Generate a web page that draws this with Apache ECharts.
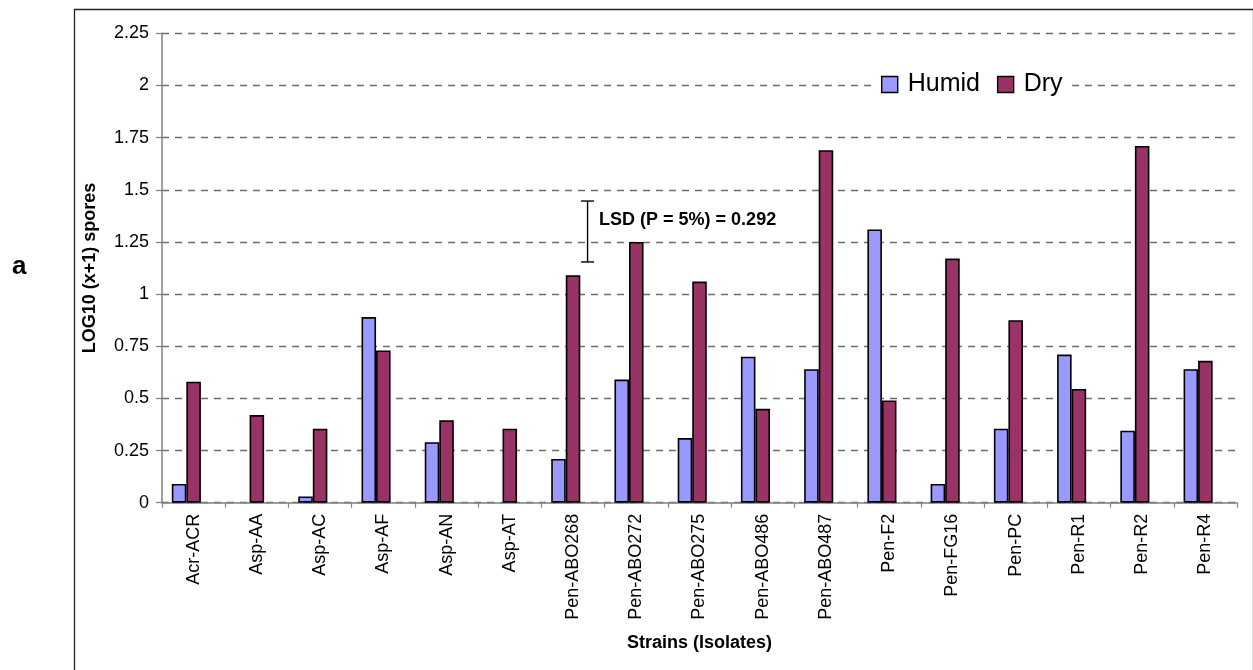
<!DOCTYPE html>
<html>
<head>
<meta charset="utf-8">
<script src="https://cdn.jsdelivr.net/npm/echarts@6/dist/echarts.min.js"></script>
<style>
  html, body { margin: 0; padding: 0; background: #fff; }
  #chart { width: 1253px; height: 670px; }
</style>
</head>
<body>
<div id="chart"></div>
<script>
// Strains (isolates) on the category axis
const strains = ['Acr-ACR', 'Asp-AA', 'Asp-AC', 'Asp-AF', 'Asp-AN', 'Asp-AT',
  'Pen-ABO268', 'Pen-ABO272', 'Pen-ABO275', 'Pen-ABO486', 'Pen-ABO487',
  'Pen-F2', 'Pen-FG16', 'Pen-PC', 'Pen-R1', 'Pen-R2', 'Pen-R4'];

// LOG10 (x+1) spore counts per condition
const humid = [0.09, 0, 0.03, 0.89, 0.29, 0, 0.21, 0.59, 0.31, 0.70, 0.64, 1.31, 0.09, 0.355, 0.71, 0.345, 0.64];
const dry   = [0.58, 0.42, 0.355, 0.73, 0.395, 0.355, 1.09, 1.25, 1.06, 0.45, 1.69, 0.49, 1.17, 0.875, 0.545, 1.71, 0.68];

// Least significant difference bar, drawn next to one strain
const lsdValue = 0.292;
const lsdCentre = 1.30;
const lsdStrain = 'Pen-ABO268';
const lsdText = 'LSD (P = 5%) = 0.292';

// Value axis ticks
const yMin = 0, yMax = 2.25, yStep = 0.25;

const FONT = "'Liberation Sans', Arial, Helvetica, sans-serif";
const BAR_SHARE = 0.23; // each bar's share of a category slot
const BAR_WIDTH = (BAR_SHARE * 100) + '%';

const chart = echarts.init(document.getElementById('chart'), null, { renderer: 'canvas' });

// zero values get no outline so nothing shows on the axis
function barData(values) {
  return values.map(v => v === 0 ? { value: 0, itemStyle: { borderWidth: 0 } } : v);
}

function barSeries(name, values, color) {
  return {
    name: name,
    type: 'bar',
    data: barData(values),
    barWidth: BAR_WIDTH,
    barGap: '0%',
    itemStyle: { color: color, borderColor: '#000', borderWidth: 1.6 },
    emphasis: { disabled: true }
  };
}

const lsdIndex = strains.indexOf(lsdStrain);

chart.setOption({
  animation: false,
  backgroundColor: '#fff',
  textStyle: { fontFamily: FONT },
  grid: { left: 162, right: 16, top: 33.3, bottom: 167.3, containLabel: false },
  legend: {
    data: ['Humid', 'Dry'],
    left: 872,
    top: 68,
    icon: 'rect',
    itemWidth: 16,
    itemHeight: 16,
    itemGap: 17,
    padding: [4, 9, 4, 9],
    backgroundColor: '#fff',
    textStyle: { fontSize: 25, color: '#000', fontFamily: FONT, padding: [0, 0, 0, 5] },
    itemStyle: { borderColor: '#000', borderWidth: 1.4 }
  },
  xAxis: {
    type: 'category',
    data: strains,
    name: 'Strains (Isolates)',
    nameLocation: 'middle',
    nameGap: 131,
    nameTextStyle: { fontSize: 18, fontWeight: 'bold', color: '#000', fontFamily: FONT },
    axisLine: { lineStyle: { color: '#808080', width: 1.5 } },
    axisTick: { show: true, length: 5, alignWithLabel: false, lineStyle: { color: '#808080', width: 1.2 } },
    axisLabel: { rotate: 90, fontSize: 18, color: '#000', margin: 11, fontFamily: FONT, interval: 0 },
    splitLine: { show: false }
  },
  yAxis: {
    type: 'value',
    min: yMin,
    max: yMax,
    interval: yStep,
    name: 'LOG10 (x+1) spores',
    nameLocation: 'middle',
    nameGap: 63,
    nameTextStyle: { fontSize: 18, fontWeight: 'bold', color: '#000', fontFamily: FONT },
    axisLine: { show: true, lineStyle: { color: '#808080', width: 1.5 } },
    axisTick: { show: true, length: 6, lineStyle: { color: '#808080', width: 1.2 } },
    axisLabel: { fontSize: 18, color: '#000', margin: 13, fontFamily: FONT,
      formatter: v => String(+v.toFixed(2)) },
    splitLine: { show: true, lineStyle: { color: '#6e6e6e', width: 1.3, type: [7, 6] } }
  },
  series: [
    barSeries('Humid', humid, '#9999FF'),
    barSeries('Dry', dry, '#993366'),
    // empty third slot: the LSD marker sits in it
    { name: 'LSD', type: 'bar', data: [], barWidth: BAR_WIDTH, barGap: '0%',
      itemStyle: { color: 'transparent' }, silent: true },
    {
      name: 'LSD marker',
      type: 'custom',
      silent: true,
      data: [[lsdIndex, lsdCentre - lsdValue / 2, lsdCentre + lsdValue / 2]],
      renderItem: function (params, api) {
        const slot = api.size([1, 0])[0];
        const lo = api.coord([api.value(0), api.value(1)]);
        const hi = api.coord([api.value(0), api.value(2)]);
        const x = lo[0] + slot * BAR_SHARE; // centre of the third slot
        const cap = 6.5;
        const style = { stroke: '#000', lineWidth: 1.4 };
        return {
          type: 'group',
          children: [
            { type: 'line', shape: { x1: x, y1: hi[1], x2: x, y2: lo[1] }, style },
            { type: 'line', shape: { x1: x - cap, y1: hi[1], x2: x + cap, y2: hi[1] }, style },
            { type: 'line', shape: { x1: x - cap, y1: lo[1], x2: x + cap, y2: lo[1] }, style },
            { type: 'text', x: x + 11.5, y: hi[1] + 18.5,
              style: { text: lsdText, fill: '#000', font: 'bold 18px ' + FONT,
                textAlign: 'left', textVerticalAlign: 'middle' } }
          ]
        };
      }
    }
  ],
  graphic: [
    { type: 'rect', left: 72, top: 7, silent: true,
      shape: { x: 0, y: 0, width: 1179, height: 700 },
      style: { fill: 'none', stroke: '#222', lineWidth: 1.3 }, z: -1 },
    { type: 'text', left: 12, top: 254, silent: true,
      style: { text: 'a', fill: '#000', font: 'bold 26px ' + FONT } }
  ]
});
</script>
</body>
</html>
